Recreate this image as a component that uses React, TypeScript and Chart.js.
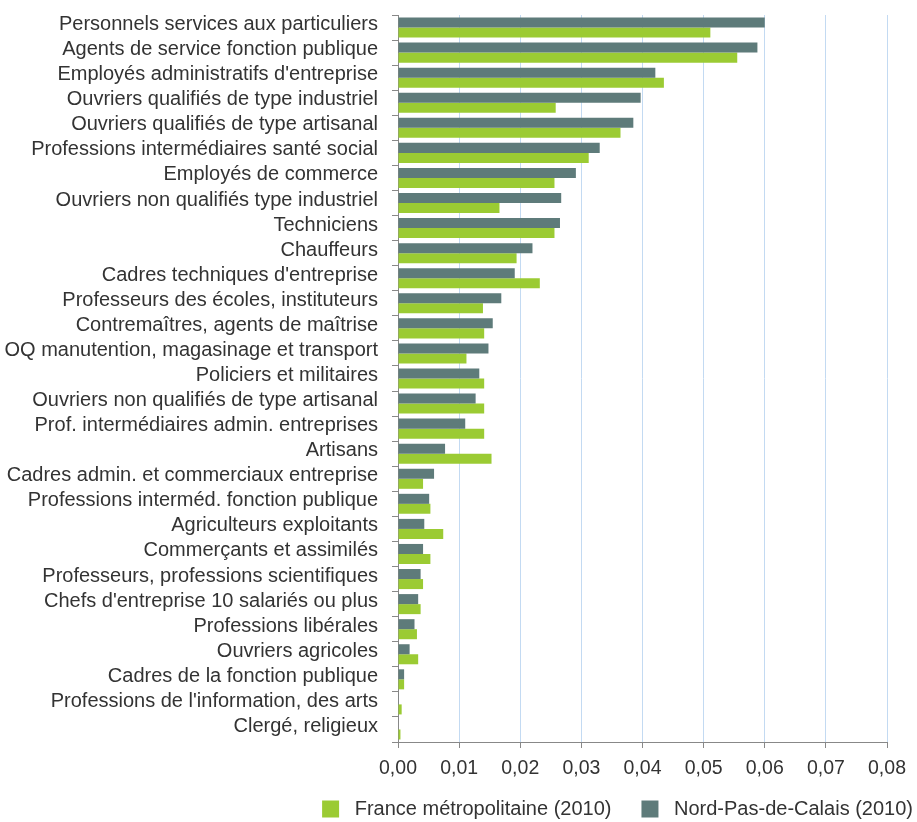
import React, { useEffect, useRef } from "react";
import { Chart, registerables } from "chart.js";

Chart.register(...registerables);

const categories = [
  "Personnels services aux particuliers",
  "Agents de service fonction publique",
  "Employés administratifs d'entreprise",
  "Ouvriers qualifiés de type industriel",
  "Ouvriers qualifiés de type artisanal",
  "Professions intermédiaires santé social",
  "Employés de commerce",
  "Ouvriers non qualifiés type industriel",
  "Techniciens",
  "Chauffeurs",
  "Cadres techniques d'entreprise",
  "Professeurs des écoles, instituteurs",
  "Contremaîtres, agents de maîtrise",
  "OQ manutention, magasinage et transport",
  "Policiers et militaires",
  "Ouvriers non qualifiés de type artisanal",
  "Prof. intermédiaires admin. entreprises",
  "Artisans",
  "Cadres admin. et commerciaux entreprise",
  "Professions interméd. fonction publique",
  "Agriculteurs exploitants",
  "Commerçants et assimilés",
  "Professeurs, professions scientifiques",
  "Chefs d'entreprise 10 salariés ou plus",
  "Professions libérales",
  "Ouvriers agricoles",
  "Cadres de la fonction publique",
  "Professions de l'information, des arts",
  "Clergé, religieux",
];

const nordPasDeCalais = [
  0.0600, 0.0588, 0.0421, 0.0397, 0.0385, 0.0330, 0.0291, 0.0267, 0.0265, 0.0220,
  0.0191, 0.0169, 0.0155, 0.0148, 0.0133, 0.0127, 0.0110, 0.0077, 0.0059, 0.0051,
  0.0043, 0.0041, 0.0037, 0.0033, 0.0027, 0.0019, 0.0010, 0.0001, 0.0,
];

const franceMetro = [
  0.0511, 0.0555, 0.0435, 0.0258, 0.0364, 0.0312, 0.0256, 0.0166, 0.0256, 0.0194,
  0.0232, 0.0139, 0.0141, 0.0112, 0.0141, 0.0141, 0.0141, 0.0153, 0.0041, 0.0053,
  0.0074, 0.0053, 0.0041, 0.0037, 0.0031, 0.0033, 0.0010, 0.0006, 0.0004,
];

const seriesNames = ["Nord-Pas-de-Calais (2010)", "France métropolitaine (2010)"];
const seriesColors = ["#5e7b7a", "#9bcb33"];
const xMin = 0;
const xMax = 0.08;
const xStep = 0.01;

const FONT = "'Liberation Sans', Arial, sans-serif";

const legendPlacer = {
  id: "legendPlacer",
  afterLayout(chart: any) {
    const lg = chart.legend;
    if (!lg) return;
    lg.left = 0;
    lg.right = 943;
    lg.top -= 15;
    lg.bottom = 822;
  },
};

export default function App() {
  const ref = useRef<HTMLCanvasElement | null>(null);

  useEffect(() => {
    if (!ref.current) return;
    const chart = new Chart(ref.current, {
      type: "bar",
      data: {
        labels: categories,
        datasets: [
          {
            label: seriesNames[0],
            data: nordPasDeCalais,
            backgroundColor: seriesColors[0],
            borderWidth: 0,
          },
          {
            label: seriesNames[1],
            data: franceMetro,
            backgroundColor: seriesColors[1],
            borderWidth: 0,
          },
        ],
      },
      plugins: [legendPlacer],
      options: {
        indexAxis: "y",
        animation: false,
        responsive: false,
        devicePixelRatio: 1,
        datasets: {
          bar: { categoryPercentage: 0.8, barPercentage: 1.0 },
        },
        layout: { padding: { top: 15, right: 30, left: 0, bottom: 0 } },
        plugins: {
          tooltip: { enabled: false },
          legend: {
            position: "bottom",
            align: "end",
            reverse: true,
            maxHeight: 38,
            labels: {
              font: { family: FONT, size: 20 },
              color: "#333333",
              boxWidth: 17,
              boxHeight: 17,
              padding: 30,
              generateLabels: (ch: any) => {
                const base = Chart.defaults.plugins.legend.labels.generateLabels(ch);
                return base.map((it: any) => ({ ...it, text: " " + it.text, lineWidth: 0 }));
              },
            },
          },
        },
        scales: {
          x: {
            type: "linear",
            min: xMin,
            max: xMax,
            ticks: {
              stepSize: xStep,
              font: { family: FONT, size: 19.5 },
              color: "#333333",
              padding: 9,
              callback: (v: any) => Number(v).toFixed(2).replace(".", ","),
            },
            grid: {
              color: "#c3daf2",
              tickColor: "#888888",
              tickLength: 6,
              lineWidth: 1,
            },
            border: { display: true, color: "#888888", width: 1 },
            afterFit: (scale: any) => {
              scale.height = 42;
            },
          },
          y: {
            ticks: {
              font: { family: FONT, size: 20 },
              color: "#333333",
              padding: 14,
              labelOffset: -3,
              autoSkip: false,
            },
            grid: {
              display: true,
              drawOnChartArea: false,
              color: "#888888",
              tickLength: 6,
            },
            border: { display: true, color: "#888888", width: 1 },
            afterFit: (scale: any) => {
              scale.width = 398;
              scale.paddingTop = 0;
              scale.paddingBottom = 0;
            },
          },
        },
      },
    });
    return () => chart.destroy();
  }, []);

  return (
    <div style={{ position: "fixed", left: 0, top: 0, width: 917, height: 822, background: "#ffffff" }}>
      <canvas ref={ref} width={917} height={822} style={{ width: 917, height: 822 }} />
    </div>
  );
}
